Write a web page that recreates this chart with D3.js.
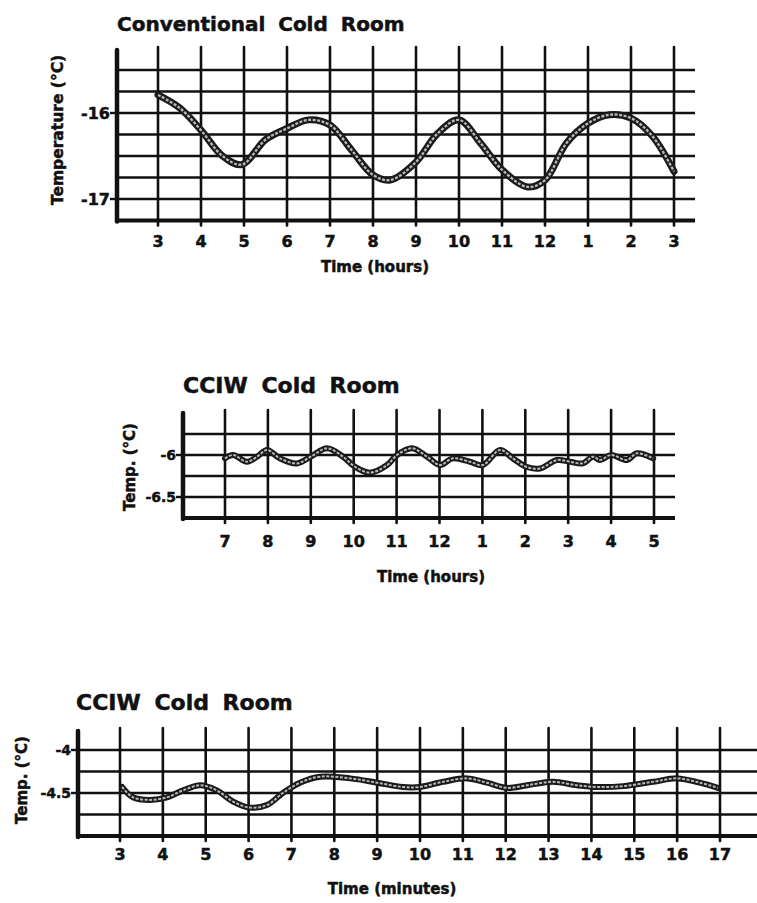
<!DOCTYPE html>
<html>
<head>
<meta charset="utf-8">
<script src="https://cdn.jsdelivr.net/npm/d3@7"></script>
<style>
  body { margin: 0; background: #fff; }
  text { font-family: "DejaVu Sans", "Liberation Sans", sans-serif; font-weight: bold; fill: #111; stroke: #111; stroke-width: 0.5px; }
</style>
</head>
<body>
<svg width="757" height="903"></svg>
<script>
//--Data
//Conventional cold room, hours since 3 o'clock
const topTicks = ["3", "4", "5", "6", "7", "8", "9", "10", "11", "12", "1", "2", "3"];
const topTime = [0, 0.5, 1, 1.5, 1.95, 2.5, 3, 3.5, 4, 4.5, 5, 5.4, 6, 6.5, 7, 7.5, 8, 8.6, 9, 9.5, 10, 10.5, 11, 11.5, 12];
const topTemp = [-15.79, -15.94, -16.2, -16.5, -16.6, -16.31, -16.18, -16.08, -16.14, -16.43, -16.72, -16.78, -16.57, -16.24, -16.08, -16.35, -16.66, -16.86, -16.78, -16.35, -16.12, -16.02, -16.06, -16.27, -16.68];
const topGrid = [-15.5, -15.75, -16, -16.25, -16.5, -16.75, -17];
const topYTicks = [-16, -17];

//CCIW cold room, hours since 7 o'clock
const midTicks = ["7", "8", "9", "10", "11", "12", "1", "2", "3", "4", "5"];
const midTime = [0, 0.19, 0.51, 0.75, 0.98, 1.28, 1.68, 2.0, 2.38, 2.75, 3.03, 3.38, 3.78, 4.01, 4.36, 4.71, 5.01, 5.31, 5.71, 6.01, 6.41, 6.71, 7.02, 7.34, 7.74, 8.04, 8.34, 8.58, 8.74, 9.0, 9.37, 9.6, 9.98];
const midTemp = [-6.04, -6.0, -6.08, -6.02, -5.94, -6.04, -6.1, -6.02, -5.92, -6.02, -6.14, -6.21, -6.12, -6.0, -5.92, -6.02, -6.12, -6.04, -6.08, -6.12, -5.94, -6.04, -6.14, -6.16, -6.06, -6.08, -6.1, -6.02, -6.06, -6.0, -6.06, -5.98, -6.04];
const midGrid = [-5.75, -6, -6.25, -6.5];
const midYTicks = [-6, -6.5];

//CCIW cold room, minutes
const lowTicks = [3, 4, 5, 6, 7, 8, 9, 10, 11, 12, 13, 14, 15, 16, 17];
const lowTime = [3.05, 3.3, 3.7, 4.1, 4.47, 4.87, 5.26, 5.64, 6.03, 6.43, 6.8, 7.2, 7.67, 8.37, 9.0, 9.6, 10.0, 10.54, 11.1, 11.56, 12.03, 12.5, 13.1, 13.66, 14.13, 14.74, 15.44, 16.0, 16.53, 16.95];
const lowTemp = [-4.43, -4.55, -4.58, -4.55, -4.47, -4.41, -4.47, -4.6, -4.67, -4.64, -4.5, -4.38, -4.31, -4.33, -4.38, -4.43, -4.43, -4.37, -4.33, -4.38, -4.44, -4.41, -4.37, -4.41, -4.43, -4.42, -4.37, -4.33, -4.38, -4.44];
const lowGrid = [-4, -4.25, -4.5, -4.75];
const lowYTicks = [-4, -4.5];

let root = d3.select("svg");

//--One panel of the figure
function panel(p) {
  let x = d3.scaleLinear().domain(p.xDomain).range(p.xRange);
  let y = d3.scaleLinear().domain(p.yDomain).range(p.yRange);
  let g = root.append("g");
  let base = y(p.yDomain[0]);

  //Title
  g.append("text")
    .attr("x", p.titleX)
    .attr("y", p.titleY)
    .style("font-size", p.titleSize + "px")
    .style("word-spacing", "6px")
    .text(p.title);

  //Horizontal grid
  g.selectAll(".hgrid")
    .data(p.grid)
    .enter()
    .append("line")
    .attr("x1", p.left)
    .attr("x2", p.right)
    .attr("y1", d => y(d))
    .attr("y2", d => y(d))
    .attr("stroke", "#111")
    .attr("stroke-width", 2.6);

  //Vertical grid
  g.selectAll(".vgrid")
    .data(p.ticks)
    .enter()
    .append("line")
    .attr("x1", (d, i) => x(p.tickAt(d, i)))
    .attr("x2", (d, i) => x(p.tickAt(d, i)))
    .attr("y1", p.vTop)
    .attr("y2", base + 5)
    .attr("stroke", "#111")
    .attr("stroke-linecap", "round")
    .attr("stroke-width", 2.6);

  //Axes
  g.append("line")
    .attr("x1", p.left).attr("x2", p.right)
    .attr("y1", base).attr("y2", base)
    .attr("stroke", "#111")
    .attr("stroke-width", 4);
  g.append("line")
    .attr("x1", p.left).attr("x2", p.left)
    .attr("y1", p.vTop + 3).attr("y2", base + 1)
    .attr("stroke", "#111")
    .attr("stroke-linecap", "round")
    .attr("stroke-width", 4.5);

  //Y ticks
  g.selectAll(".ytick")
    .data(p.yTicks)
    .enter()
    .append("line")
    .attr("x1", p.left - 7)
    .attr("x2", p.left)
    .attr("y1", d => y(d))
    .attr("y2", d => y(d))
    .attr("stroke", "#111")
    .attr("stroke-width", 2.4);
  g.selectAll(".ylab")
    .data(p.yTicks)
    .enter()
    .append("text")
    .attr("x", p.left - 7)
    .attr("y", d => y(d))
    .attr("text-anchor", "end")
    .attr("dominant-baseline", "central")
    .style("font-size", p.yTickSize + "px")
    .text(d => "-" + Math.abs(d));

  //X tick labels
  g.selectAll(".xlab")
    .data(p.ticks)
    .enter()
    .append("text")
    .attr("x", (d, i) => x(p.tickAt(d, i)))
    .attr("y", p.xLabelY)
    .attr("text-anchor", "middle")
    .style("font-size", "16px")
    .text(d => d);

  //Axis titles
  g.append("text")
    .attr("x", p.xTitleX)
    .attr("y", p.xTitleY)
    .attr("text-anchor", "middle")
    .style("font-size", "15px")
    .text(p.xTitle);
  g.append("text")
    .attr("transform", "translate(" + p.yTitleX + "," + p.yTitleY + ") rotate(-90)")
    .attr("text-anchor", "middle")
    .attr("dominant-baseline", "central")
    .style("font-size", p.yTitleSize + "px")
    .text(p.yTitle);

  //Trace: dark band with a pale core, like the recorder pen
  let pts = p.time.map((t, i) => [t, p.temp[i]]);
  let line = d3.line()
    .x(d => x(d[0]))
    .y(d => y(d[1]))
    .curve(d3.curveCatmullRom.alpha(0.5));
  g.append("path")
    .attr("d", line(pts))
    .attr("fill", "none")
    .attr("stroke", "#1a1a1a")
    .attr("stroke-width", p.penWidth)
    .attr("stroke-linecap", "round");
  g.append("path")
    .attr("d", line(pts))
    .attr("fill", "none")
    .attr("stroke", "#b8b8b8")
    .attr("stroke-width", p.penWidth / 3)
    .attr("stroke-dasharray", "3,1.5");
}

panel({
  title: "Conventional Cold Room", titleX: 117, titleY: 31, titleSize: 20,
  xDomain: [0, 12], xRange: [158, 674],
  yDomain: [-17.25, -15.5], yRange: [220.5, 70],
  left: 117, right: 695, vTop: 47,
  grid: topGrid, yTicks: topYTicks, yTickSize: 16,
  ticks: topTicks, tickAt: (d, i) => i,
  xLabelY: 247, xTitle: "Time (hours)", xTitleX: 375, xTitleY: 272,
  yTitle: "Temperature (°C)", yTitleX: 58, yTitleY: 130, yTitleSize: 15.5,
  time: topTime, temp: topTemp, penWidth: 7
});

panel({
  title: "CCIW Cold Room", titleX: 183, titleY: 393, titleSize: 22,
  xDomain: [0, 10], xRange: [225, 654],
  yDomain: [-6.75, -5.75], yRange: [518, 434],
  left: 183, right: 675, vTop: 410,
  grid: midGrid, yTicks: midYTicks, yTickSize: 14,
  ticks: midTicks, tickAt: (d, i) => i,
  xLabelY: 547, xTitle: "Time (hours)", xTitleX: 431, xTitleY: 582,
  yTitle: "Temp. (°C)", yTitleX: 130, yTitleY: 467, yTitleSize: 15,
  time: midTime, temp: midTemp, penWidth: 6
});

panel({
  title: "CCIW Cold Room", titleX: 76, titleY: 710, titleSize: 22,
  xDomain: [3, 17], xRange: [120, 720],
  yDomain: [-5, -4], yRange: [836, 750],
  left: 78, right: 757, vTop: 728,
  grid: lowGrid, yTicks: lowYTicks, yTickSize: 14,
  ticks: lowTicks, tickAt: d => d,
  xLabelY: 860, xTitle: "Time (minutes)", xTitleX: 392, xTitleY: 894,
  yTitle: "Temp. (°C)", yTitleX: 22, yTitleY: 780, yTitleSize: 15,
  time: lowTime, temp: lowTemp, penWidth: 6
});
</script>
</body>
</html>
